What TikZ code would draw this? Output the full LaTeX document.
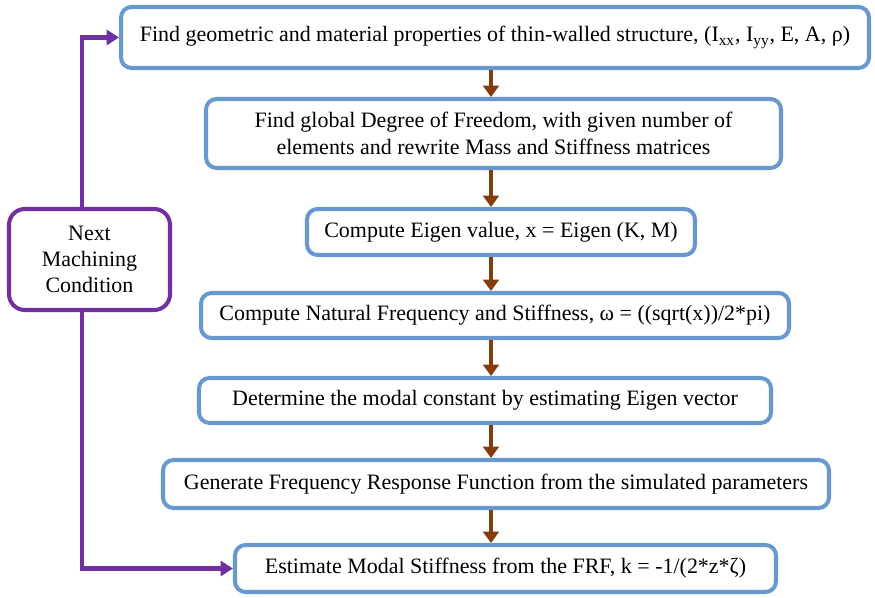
\documentclass[tikz,border=0pt]{standalone}
\usepackage{fontspec}
\setmainfont{Liberation Serif}
\usepackage{xcolor}
\definecolor{boxblue}{RGB}{104,153,206}
\definecolor{loopviolet}{RGB}{112,48,160}
\definecolor{flowbrown}{RGB}{132,60,12}
\newcommand{\sub}[1]{\textsubscript{#1}}
\usepackage{tikz}
\usetikzlibrary{arrows.meta}
\usetikzlibrary{calc}

\tikzset{
  stepbox/.style={draw=boxblue, line width=2.3pt, rounded corners=6pt, fill=white,
    align=center, inner sep=0pt, font=\fontsize{12.5}{15}\selectfont},
  loopbox/.style={stepbox, draw=loopviolet, rounded corners=9pt},
  flow/.style={-{Triangle[width=9pt,length=6.5pt]}, flowbrown, line width=2.8pt},
  back/.style={-{Triangle[width=8.5pt,length=7pt]}, loopviolet, line width=2.3pt},
}

\begin{document}
\begin{tikzpicture} % Modal stiffness procedure

      \useasboundingbox (0, 0) rectangle (17.5, -11.96);

      \node [stepbox, minimum width=14.96cm, minimum height=1.22cm] (geom) at (9.9, -0.75)
      {Find geometric and material properties of thin-walled structure, (I\sub{xx}, I\sub{yy}, E, A, ρ)};
      \node [stepbox, minimum width=11.5cm, minimum height=1.38cm] (dof) at (9.87, -2.67)
      {Find global Degree of Freedom, with given number of\\elements and rewrite Mass and Stiffness matrices};
      \node [stepbox, minimum width=7.76cm, minimum height=0.92cm] (eig) at (10.02, -4.64)
      {Compute Eigen value, x = Eigen (K, M)};
      \node [stepbox, minimum width=11.76cm, minimum height=0.9cm] (freq) at (9.9, -6.31)
      {Compute Natural Frequency and Stiffness, ω = ((sqrt(x))/2*pi)};
      \node [stepbox, minimum width=11.44cm, minimum height=0.9cm] (modal) at (9.7, -8.01)
      {Determine the modal constant by estimating Eigen vector};
      \node [stepbox, minimum width=13.32cm, minimum height=0.96cm] (frf) at (9.92, -9.68)
      {Generate Frequency Response Function from the simulated parameters};
      \node [stepbox, minimum width=10.82cm, minimum height=0.94cm] (stiff) at (10.11, -11.37)
      {Estimate Modal Stiffness from the FRF, k = -1/(2*z*ζ)};

      \node [loopbox, minimum width=3.22cm, minimum height=2.02cm] (next) at (1.79, -5.19)
      {Next\\Machining\\Condition};

      % brown arrows down the middle
      \coordinate (spine) at (9.82, 0);
      \foreach \a/\b in {geom/dof, dof/eig, eig/freq, freq/modal, modal/frf, frf/stiff}
        \draw [flow] (\a.south -| spine) -- (\b.north -| spine);

      % loop back through the next condition
      \coordinate (rail) at (1.64, 0);
      \draw [back] (next.north -| rail) |- (geom.west);
      \draw [back] (next.south -| rail) |- (stiff.west);

    \end{tikzpicture}
\end{document}
